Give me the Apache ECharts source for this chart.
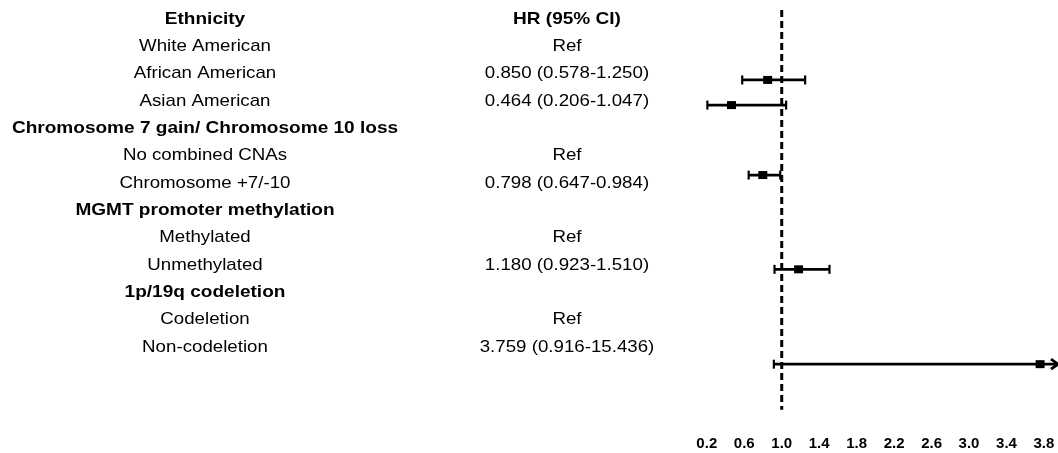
<!DOCTYPE html>
<html>
<head>
<meta charset="utf-8">
<script src="https://cdn.jsdelivr.net/npm/echarts@6/dist/echarts.min.js"></script>
<style>
  html, body { margin: 0; padding: 0; background: #fff; }
  #chart { width: 1058px; height: 453px; }
</style>
</head>
<body>
<div id="chart"></div>
<script>
// Table rows (left column) and the hazard-ratio column
const rowLabels = [
  'Ethnicity', 'White American', 'African American', 'Asian American',
  'Chromosome 7 gain/ Chromosome 10 loss', 'No combined CNAs', 'Chromosome +7/-10',
  'MGMT promoter methylation', 'Methylated', 'Unmethylated',
  '1p/19q codeletion', 'Codeletion', 'Non-codeletion'
];
const headerRows = [0, 4, 7, 10];
const hrLabels = [
  'HR (95% CI)', 'Ref', '0.850 (0.578-1.250)', '0.464 (0.206-1.047)',
  '', 'Ref', '0.798 (0.647-0.984)',
  '', 'Ref', '1.180 (0.923-1.510)',
  '', 'Ref', '3.759 (0.916-15.436)'
];

// Estimates plotted in the forest panel
const hr    = [0.850, 0.464, 0.798, 1.180, 3.759];
const lower = [0.578, 0.206, 0.647, 0.923, 0.916];
const upper = [1.250, 1.047, 0.984, 1.510, 15.436];
const plotRow = [2.23, 3.15, 5.71, 9.16, 12.63];

// Axis settings
const xMin = 0.2, xMax = 3.95, xStep = 0.4;
const refValue = 1.0;

const FONT = 'Arial, "Liberation Sans", sans-serif';
const X_LEFT = 205, X_HR = 567;

const chart = echarts.init(document.getElementById('chart'), null, { renderer: 'canvas' });

const forestData = hr.map((v, i) => [v, lower[i], upper[i], plotRow[i]]);
const tableData = rowLabels.map((_, i) => [i]);

chart.setOption({
  animation: false,
  backgroundColor: '#ffffff',
  grid: { left: 706.8, width: (xMax - xMin) * 94, top: 5.33, height: 15 * 27.33 },
  xAxis: {
    type: 'value', min: xMin, max: xMax, interval: xStep,
    axisLine: { show: false }, axisTick: { show: false }, splitLine: { show: false },
    axisLabel: {
      showMaxLabel: false, margin: 21,
      fontFamily: FONT, fontSize: 15, fontWeight: 'bold', color: '#000',
      formatter: v => v.toFixed(1)
    }
  },
  yAxis: {
    type: 'value', min: -0.5, max: 14.5, inverse: true, show: false
  },
  series: [
    {
      // reference line at HR = 1
      type: 'custom', clip: false, silent: true,
      data: [[refValue]],
      renderItem: (params, api) => {
        const x = api.coord([api.value(0), 0])[0];
        const y0 = api.coord([refValue, -0.33])[1];
        const y1 = api.coord([refValue, 14.3])[1];
        return {
          type: 'line',
          shape: { x1: x, y1: y0, x2: x, y2: y1 },
          style: { stroke: '#000', lineWidth: 3, lineDash: [7, 4] }
        };
      }
    },
    {
      // hazard ratio markers with confidence intervals
      type: 'custom', clip: false, silent: true,
      data: forestData,
      renderItem: (params, api) => {
        const est = api.value(0), lo = api.value(1), hi = api.value(2), row = api.value(3);
        const y = api.coord([est, row])[1];
        const xe = api.coord([est, row])[0];
        const xl = api.coord([lo, row])[0];
        const clipped = hi > xMax;
        const xh = api.coord([clipped ? xMax : hi, row])[0];
        const stroke = { stroke: '#000', lineWidth: 2.8 };
        const children = [
          { type: 'line', shape: { x1: xl, y1: y, x2: xh, y2: y }, style: stroke },
          { type: 'line', shape: { x1: xl, y1: y - 4.5, x2: xl, y2: y + 4.5 }, style: { stroke: '#000', lineWidth: 2.2 } }
        ];
        if (clipped) {
          children.push({
            type: 'polyline',
            shape: { points: [[xh - 7, y - 5], [xh, y], [xh - 7, y + 5]] },
            style: { stroke: '#000', lineWidth: 2.8, fill: null }
          });
        } else {
          children.push({ type: 'line', shape: { x1: xh, y1: y - 4.5, x2: xh, y2: y + 4.5 }, style: { stroke: '#000', lineWidth: 2.2 } });
        }
        children.push({ type: 'rect', shape: { x: xe - 4.5, y: y - 4, width: 9, height: 8 }, style: { fill: '#000' } });
        return { type: 'group', children };
      }
    },
    {
      // table text: variable names and HR (95% CI)
      type: 'custom', clip: false, silent: true,
      data: tableData,
      renderItem: (params, api) => {
        const i = api.value(0);
        const y = api.coord([xMin, i])[1];
        const bold = headerRows.indexOf(i) >= 0;
        const txt = (t, x, b) => ({
          type: 'text', x, y,
          scaleX: b ? 1.12 : 1.1,
          style: {
            text: t, fill: '#000', align: 'center', verticalAlign: 'middle',
            font: (b ? 'bold ' : '') + '17px ' + FONT
          }
        });
        const children = [txt(rowLabels[i], X_LEFT, bold)];
        if (hrLabels[i]) children.push(txt(hrLabels[i], X_HR, i === 0));
        return { type: 'group', children };
      }
    }
  ]
});
</script>
</body>
</html>
